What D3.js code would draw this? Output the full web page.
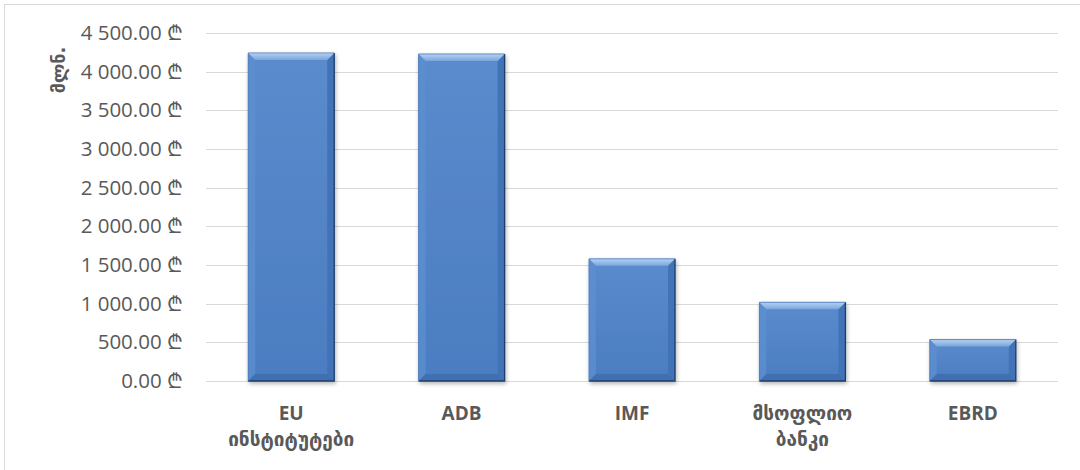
<!DOCTYPE html>
<html>
<head>
<meta charset="utf-8">
<script src="https://cdn.jsdelivr.net/npm/d3@7"></script>
<style>
  html, body { margin: 0; padding: 0; background: #fff; }
  svg { display: block; }
</style>
</head>
<body>
<svg id="chart" width="1080" height="470"></svg>
<script>
// ---- data ----
const categories = [["EU", "ინსტიტუტები"], ["ADB"], ["IMF"], ["მსოფლიო", "ბანკი"], ["EBRD"]];
const values = [4242, 4229, 1580, 1018, 536];
const tickValues = [0, 500, 1000, 1500, 2000, 2500, 3000, 3500, 4000, 4500];
const yTitle = "მლნ.";

// ---- layout ----
const plot = { left: 206, right: 1058, top: 33, bottom: 381 };
const svg = d3.select("#chart");

const locale = d3.formatLocale({ decimal: ".", thousands: "\u00a0", grouping: [3], currency: ["", "\u00a0₾"] });
const fmt = locale.format("$,.2f");

const x = d3.scaleBand().domain(d3.range(categories.length))
  .range([plot.left, plot.right]).paddingInner(0.495).paddingOuter(0.2475);
const y = d3.scaleLinear().domain([0, 4500]).range([plot.bottom, plot.top]);

// outer border (only top/left visible)
svg.append("rect").attr("x", 4.5).attr("y", 4.5).attr("width", 1200).attr("height", 600)
  .attr("fill", "none").attr("stroke", "#d9d9d9").attr("stroke-width", 1);

// gridlines
svg.append("g").selectAll("line").data(tickValues).join("line")
  .attr("x1", plot.left).attr("x2", plot.right)
  .attr("y1", d => Math.round(y(d)) + 0.5).attr("y2", d => Math.round(y(d)) + 0.5)
  .attr("stroke", "#d9d9d9").attr("stroke-width", 1);

// y axis labels
const yAxis = d3.axisLeft(y).tickValues(tickValues).tickFormat(fmt).tickSize(0).tickPadding(0);
const yg = svg.append("g").attr("transform", `translate(${plot.left - 23},0)`).call(yAxis);
yg.select(".domain").remove();
yg.selectAll("text").attr("font-family", "'Open Sans', 'DejaVu Sans', sans-serif")
  .attr("font-size", 20.5).attr("fill", "#595959");

// y title
svg.append("text")
  .attr("transform", "translate(65,70) rotate(-90)")
  .attr("text-anchor", "middle")
  .attr("font-family", "'DejaVu Sans', sans-serif").attr("font-weight", "bold")
  .attr("font-size", 18).attr("fill", "#595959")
  .text(yTitle);

// gradients / filters
const defs = svg.append("defs");
const g1 = defs.append("linearGradient").attr("id", "face").attr("x1", 0).attr("y1", 0).attr("x2", 0).attr("y2", 1);
g1.append("stop").attr("offset", 0).attr("stop-color", "#5a8bcd");
g1.append("stop").attr("offset", 1).attr("stop-color", "#4b7dc1");
const g2 = defs.append("linearGradient").attr("id", "topb").attr("x1", 0).attr("y1", 0).attr("x2", 0).attr("y2", 1);
g2.append("stop").attr("offset", 0).attr("stop-color", "#b6d2f3");
g2.append("stop").attr("offset", 1).attr("stop-color", "#79a5dd");
const f = defs.append("filter").attr("id", "shadow").attr("x", "-20%").attr("y", "-20%").attr("width", "140%").attr("height", "140%");
f.append("feGaussianBlur").attr("in", "SourceAlpha").attr("stdDeviation", 2);
f.append("feOffset").attr("dx", 1).attr("dy", 2).attr("result", "ob");
f.append("feComponentTransfer").append("feFuncA").attr("type", "linear").attr("slope", 0.3);
const fm = f.append("feMerge");
fm.append("feMergeNode");
fm.append("feMergeNode").attr("in", "SourceGraphic");

// bars with bevel
const bars = svg.append("g").selectAll("g").data(values).join("g").attr("filter", "url(#shadow)");
bars.each(function (v, i) {
  const g = d3.select(this);
  const x0 = x(i), x1 = x(i) + x.bandwidth();
  const y0 = y(v), y1 = y(0);
  const b = Math.min(7, (y1 - y0) / 2);
  const pts = a => a.map(p => p.join(",")).join(" ");
  g.append("rect").attr("x", x0).attr("y", y0).attr("width", x1 - x0).attr("height", y1 - y0).attr("fill", "url(#face)");
  g.append("polygon").attr("points", pts([[x0, y0], [x0 + b, y0 + b], [x0 + b, y1 - b], [x0, y1]])).attr("fill", "#5c8ed0").attr("opacity", 0.8);
  g.append("polygon").attr("points", pts([[x1, y0], [x1, y1], [x1 - b, y1 - b], [x1 - b, y0 + b]])).attr("fill", "#4273b6");
  g.append("polygon").attr("points", pts([[x0, y1], [x0 + b, y1 - b], [x1 - b, y1 - b], [x1, y1]])).attr("fill", "#3f6fb1");
  g.append("polygon").attr("points", pts([[x0, y0], [x1, y0], [x1 - b, y0 + b], [x0 + b, y0 + b]])).attr("fill", "url(#topb)");
  g.append("path").attr("d", `M${x1},${y0}L${x1},${y1}L${x0},${y1}`).attr("fill", "none").attr("stroke", "#1f3d6b").attr("stroke-width", 1.3);
  g.append("path").attr("d", `M${x0},${y1}L${x0},${y0}L${x1},${y0}`).attr("fill", "none").attr("stroke", "#4a78b6").attr("stroke-width", 0.8);
});

// category labels
const xl = svg.append("g").selectAll("text").data(categories).join("text")
  .attr("x", (d, i) => x(i) + x.bandwidth() / 2)
  .attr("y", 420)
  .attr("text-anchor", "middle")
  .attr("font-family", "'Open Sans', 'DejaVu Sans', sans-serif").attr("font-weight", "bold")
  .attr("font-size", 19).attr("fill", "#595959");
xl.each(function (lines) {
  const t = d3.select(this);
  lines.forEach((l, k) => t.append("tspan").attr("x", t.attr("x")).attr("y", 420 + k * 26).text(l));
});
</script>
</body>
</html>
